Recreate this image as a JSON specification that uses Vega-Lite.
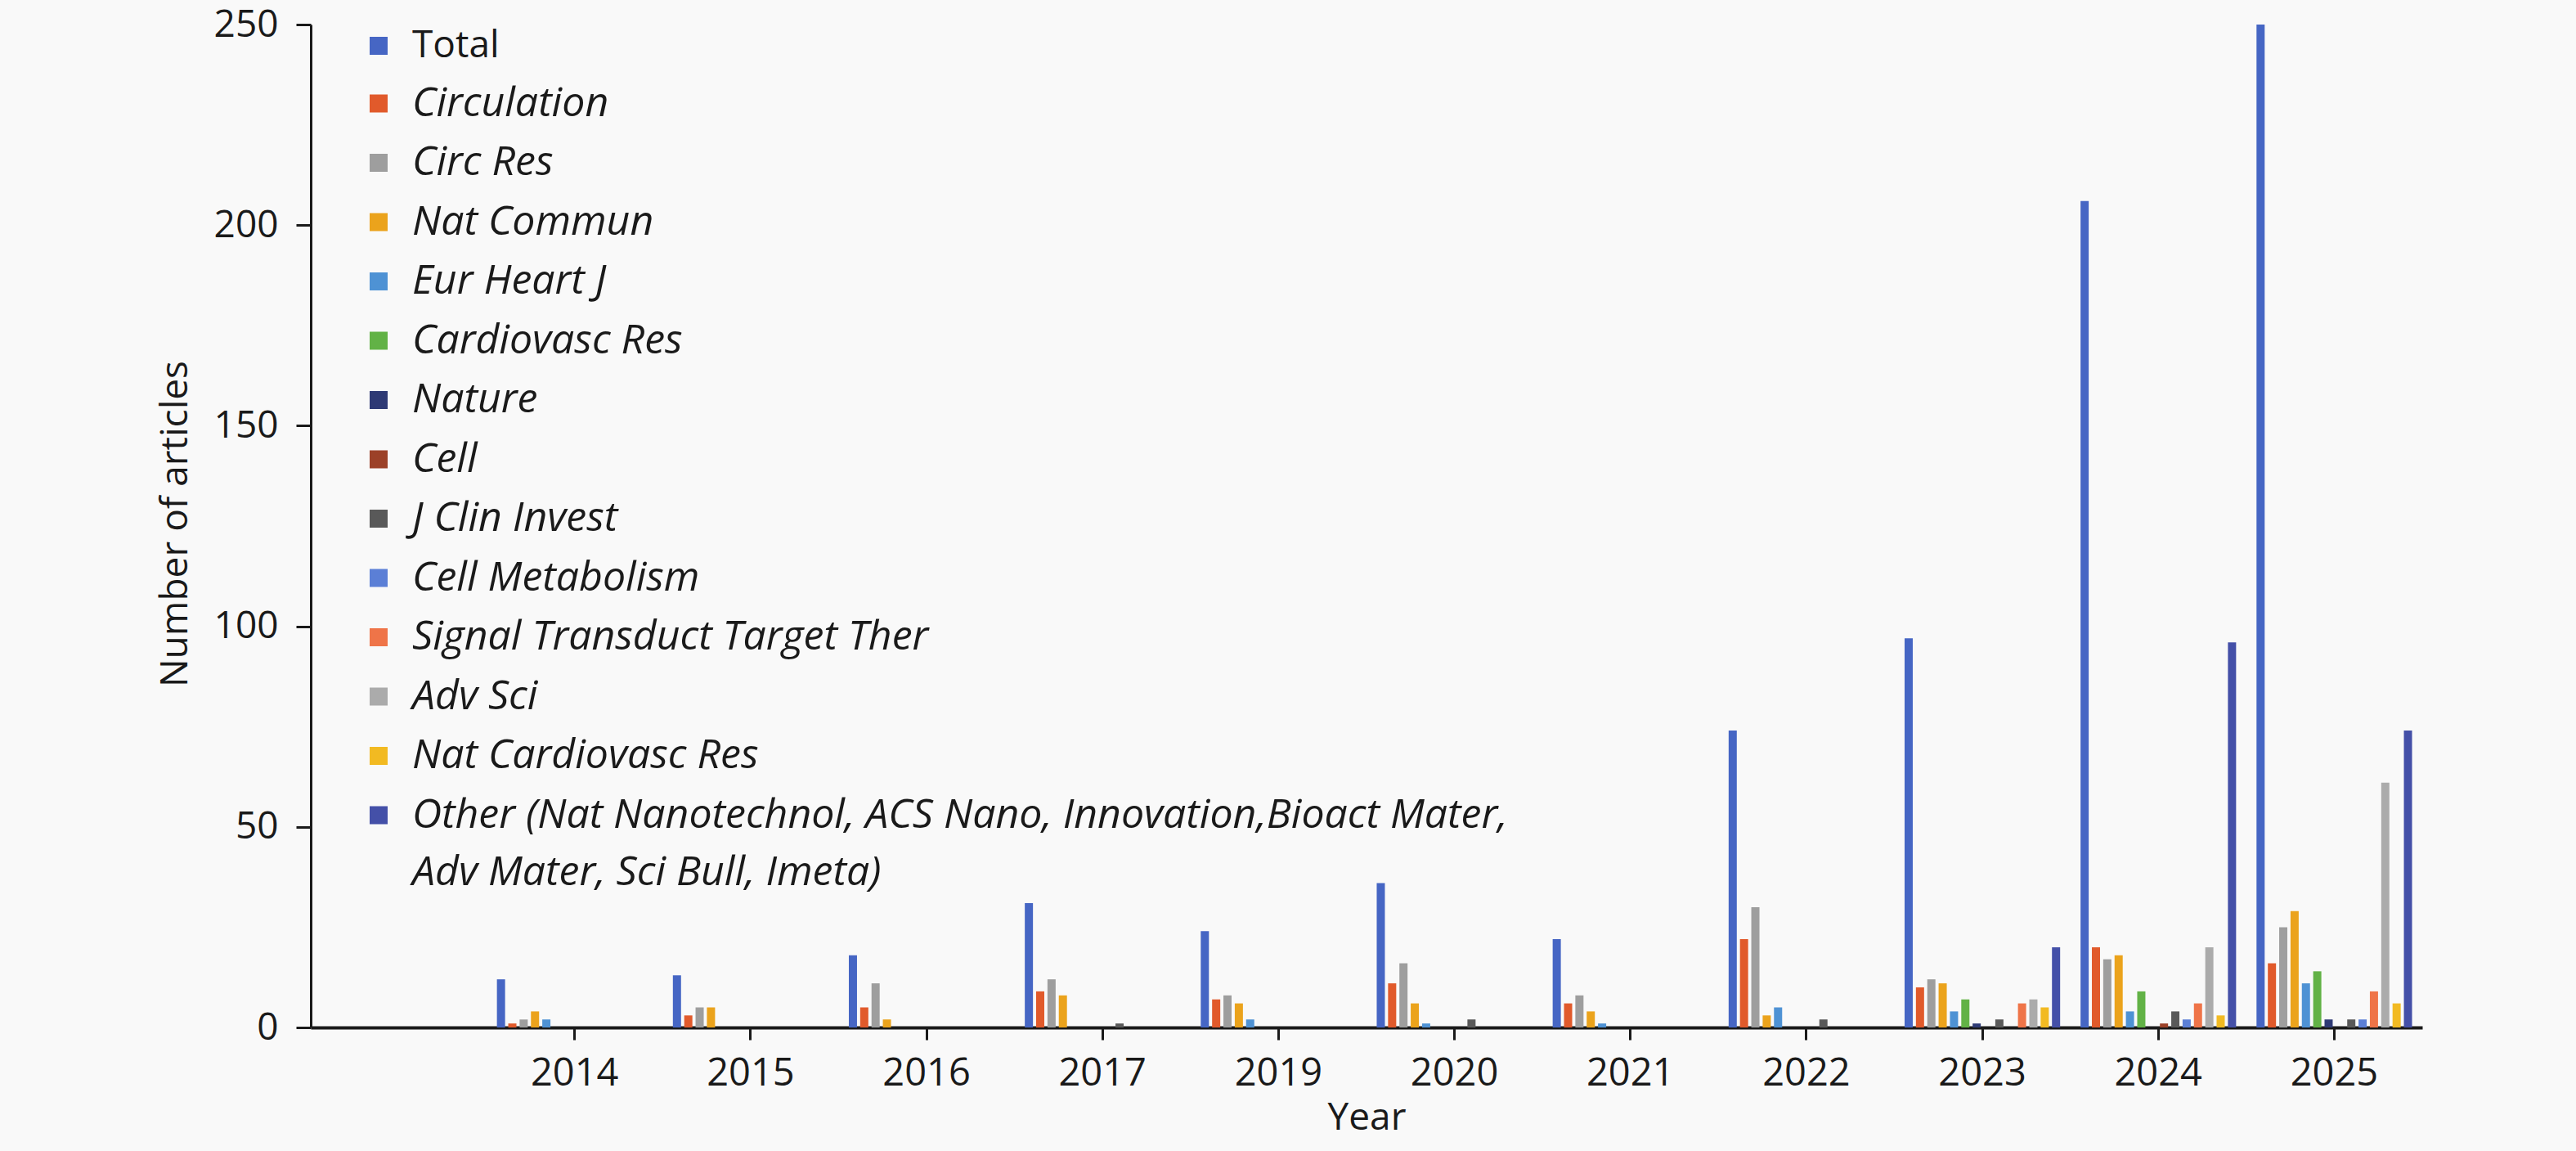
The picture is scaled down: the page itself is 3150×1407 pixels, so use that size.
{
  "$schema": "https://vega.github.io/schema/vega-lite/v6.json",
  "width": 2582,
  "height": 1226,
  "autosize": {"type": "none"},
  "padding": {"left": 380, "top": 30, "right": 188, "bottom": 151},
  "background": "#F9F9F9",
  "config": {"view": {"stroke": null}, "font": "Open Sans"},
  "data": {
    "values": [
      {"year": "2014", "journal": "Total", "articles": 12},
      {"year": "2014", "journal": "Circulation", "articles": 1},
      {"year": "2014", "journal": "Circ Res", "articles": 2},
      {"year": "2014", "journal": "Nat Commun", "articles": 4},
      {"year": "2014", "journal": "Eur Heart J", "articles": 2},
      {"year": "2015", "journal": "Total", "articles": 13},
      {"year": "2015", "journal": "Circulation", "articles": 3},
      {"year": "2015", "journal": "Circ Res", "articles": 5},
      {"year": "2015", "journal": "Nat Commun", "articles": 5},
      {"year": "2016", "journal": "Total", "articles": 18},
      {"year": "2016", "journal": "Circulation", "articles": 5},
      {"year": "2016", "journal": "Circ Res", "articles": 11},
      {"year": "2016", "journal": "Nat Commun", "articles": 2},
      {"year": "2017", "journal": "Total", "articles": 31},
      {"year": "2017", "journal": "Circulation", "articles": 9},
      {"year": "2017", "journal": "Circ Res", "articles": 12},
      {"year": "2017", "journal": "Nat Commun", "articles": 8},
      {"year": "2017", "journal": "J Clin Invest", "articles": 1},
      {"year": "2019", "journal": "Total", "articles": 24},
      {"year": "2019", "journal": "Circulation", "articles": 7},
      {"year": "2019", "journal": "Circ Res", "articles": 8},
      {"year": "2019", "journal": "Nat Commun", "articles": 6},
      {"year": "2019", "journal": "Eur Heart J", "articles": 2},
      {"year": "2020", "journal": "Total", "articles": 36},
      {"year": "2020", "journal": "Circulation", "articles": 11},
      {"year": "2020", "journal": "Circ Res", "articles": 16},
      {"year": "2020", "journal": "Nat Commun", "articles": 6},
      {"year": "2020", "journal": "Eur Heart J", "articles": 1},
      {"year": "2020", "journal": "J Clin Invest", "articles": 2},
      {"year": "2021", "journal": "Total", "articles": 22},
      {"year": "2021", "journal": "Circulation", "articles": 6},
      {"year": "2021", "journal": "Circ Res", "articles": 8},
      {"year": "2021", "journal": "Nat Commun", "articles": 4},
      {"year": "2021", "journal": "Eur Heart J", "articles": 1},
      {"year": "2022", "journal": "Total", "articles": 74},
      {"year": "2022", "journal": "Circulation", "articles": 22},
      {"year": "2022", "journal": "Circ Res", "articles": 30},
      {"year": "2022", "journal": "Nat Commun", "articles": 3},
      {"year": "2022", "journal": "Eur Heart J", "articles": 5},
      {"year": "2022", "journal": "J Clin Invest", "articles": 2},
      {"year": "2023", "journal": "Total", "articles": 97},
      {"year": "2023", "journal": "Circulation", "articles": 10},
      {"year": "2023", "journal": "Circ Res", "articles": 12},
      {"year": "2023", "journal": "Nat Commun", "articles": 11},
      {"year": "2023", "journal": "Eur Heart J", "articles": 4},
      {"year": "2023", "journal": "Cardiovasc Res", "articles": 7},
      {"year": "2023", "journal": "Nature", "articles": 1},
      {"year": "2023", "journal": "J Clin Invest", "articles": 2},
      {"year": "2023", "journal": "Signal Transduct Target Ther", "articles": 6},
      {"year": "2023", "journal": "Adv Sci", "articles": 7},
      {"year": "2023", "journal": "Nat Cardiovasc Res", "articles": 5},
      {"year": "2023", "journal": "Other (Nat Nanotechnol, ACS Nano, Innovation,Bioact Mater, Adv Mater, Sci Bull, Imeta)", "articles": 20},
      {"year": "2024", "journal": "Total", "articles": 206},
      {"year": "2024", "journal": "Circulation", "articles": 20},
      {"year": "2024", "journal": "Circ Res", "articles": 17},
      {"year": "2024", "journal": "Nat Commun", "articles": 18},
      {"year": "2024", "journal": "Eur Heart J", "articles": 4},
      {"year": "2024", "journal": "Cardiovasc Res", "articles": 9},
      {"year": "2024", "journal": "Cell", "articles": 1},
      {"year": "2024", "journal": "J Clin Invest", "articles": 4},
      {"year": "2024", "journal": "Cell Metabolism", "articles": 2},
      {"year": "2024", "journal": "Signal Transduct Target Ther", "articles": 6},
      {"year": "2024", "journal": "Adv Sci", "articles": 20},
      {"year": "2024", "journal": "Nat Cardiovasc Res", "articles": 3},
      {"year": "2024", "journal": "Other (Nat Nanotechnol, ACS Nano, Innovation,Bioact Mater, Adv Mater, Sci Bull, Imeta)", "articles": 96},
      {"year": "2025", "journal": "Total", "articles": 250},
      {"year": "2025", "journal": "Circulation", "articles": 16},
      {"year": "2025", "journal": "Circ Res", "articles": 25},
      {"year": "2025", "journal": "Nat Commun", "articles": 29},
      {"year": "2025", "journal": "Eur Heart J", "articles": 11},
      {"year": "2025", "journal": "Cardiovasc Res", "articles": 14},
      {"year": "2025", "journal": "Nature", "articles": 2},
      {"year": "2025", "journal": "J Clin Invest", "articles": 2},
      {"year": "2025", "journal": "Cell Metabolism", "articles": 2},
      {"year": "2025", "journal": "Signal Transduct Target Ther", "articles": 9},
      {"year": "2025", "journal": "Adv Sci", "articles": 61},
      {"year": "2025", "journal": "Nat Cardiovasc Res", "articles": 6},
      {"year": "2025", "journal": "Other (Nat Nanotechnol, ACS Nano, Innovation,Bioact Mater, Adv Mater, Sci Bull, Imeta)", "articles": 74}
    ]
  },
  "mark": {"type": "bar"},
  "encoding": {
    "x": {
      "field": "year",
      "type": "nominal",
      "scale": {
        "domain": [" ", "2014", "2015", "2016", "2017", "2019", "2020", "2021", "2022", "2023", "2024", "2025"],
        "paddingInner": 0.098,
        "paddingOuter": 0.049
      },
      "axis": {
        "title": "Year",
        "values": ["2014", "2015", "2016", "2017", "2019", "2020", "2021", "2022", "2023", "2024", "2025"],
        "labelAngle": 0,
        "labelFontSize": 47,
        "labelColor": "#1a1a1a",
        "labelPadding": 18,
        "tickSize": 15,
        "tickWidth": 3,
        "tickColor": "#1a1a1a",
        "domainColor": "#1a1a1a",
        "domainWidth": 4,
        "grid": false,
        "titleFontSize": 46,
        "titleFontWeight": "normal",
        "titleColor": "#1a1a1a",
        "titleBaseline": "middle",
        "titleY": 110
      }
    },
    "xOffset": {
      "field": "journal",
      "type": "nominal",
      "scale": {
        "domain": ["Total", "Circulation", "Circ Res", "Nat Commun", "Eur Heart J", "Cardiovasc Res", "Nature", "Cell", "J Clin Invest", "Cell Metabolism", "Signal Transduct Target Ther", "Adv Sci", "Nat Cardiovasc Res", "Other (Nat Nanotechnol, ACS Nano, Innovation,Bioact Mater, Adv Mater, Sci Bull, Imeta)"],
        "paddingInner": 0.28,
        "paddingOuter": 0.14
      }
    },
    "y": {
      "field": "articles",
      "type": "quantitative",
      "scale": {"domain": [0, 250], "nice": false},
      "axis": {
        "title": "Number of articles",
        "values": [0, 50, 100, 150, 200, 250],
        "labelFontSize": 46,
        "labelColor": "#1a1a1a",
        "labelPadding": 22,
        "tickSize": 18,
        "tickWidth": 3,
        "tickColor": "#1a1a1a",
        "domainColor": "#1a1a1a",
        "domainWidth": 3,
        "grid": false,
        "titleFontSize": 46,
        "titleFontWeight": "normal",
        "titleColor": "#1a1a1a",
        "titleAngle": -90,
        "titleBaseline": "middle",
        "titleX": -166,
        "titleY": 610
      }
    },
    "color": {
      "field": "journal",
      "type": "nominal",
      "scale": {
        "domain": ["Total", "Circulation", "Circ Res", "Nat Commun", "Eur Heart J", "Cardiovasc Res", "Nature", "Cell", "J Clin Invest", "Cell Metabolism", "Signal Transduct Target Ther", "Adv Sci", "Nat Cardiovasc Res", "Other (Nat Nanotechnol, ACS Nano, Innovation,Bioact Mater, Adv Mater, Sci Bull, Imeta)"],
        "range": ["#4666C4", "#E15A2B", "#9E9E9E", "#EBA31C", "#4E92D4", "#62B246", "#2E3A75", "#9C4128", "#595959", "#5B7FD6", "#EF7448", "#ABABAB", "#F2BA22", "#4450A8"]
      },
      "legend": {
        "orient": "none",
        "legendX": 58,
        "legendY": 1,
        "title": null,
        "padding": 0,
        "symbolType": "square",
        "symbolSize": 484,
        "symbolStrokeWidth": 0,
        "labelFontSize": 46,
        "labelColor": "#1a1a1a",
        "labelOffset": 16,
        "labelLimit": 3000,
        "rowPadding": 22.5,
        "labelExpr": "indexof(datum.label, 'Other') === 0 ? ['Other (Nat Nanotechnol, ACS Nano, Innovation,Bioact Mater,', 'Adv Mater, Sci Bull, Imeta)'] : datum.label",
        "encode": {
          "labels": {
            "update": {
              "fontStyle": {"signal": "datum.label === 'Total' ? 'normal' : 'italic'"},
              "fontSize": {"signal": "datum.label === 'Total' ? 46 : 50"},
              "lineHeight": {"value": 70}
            }
          }
        }
      }
    }
  }
}
